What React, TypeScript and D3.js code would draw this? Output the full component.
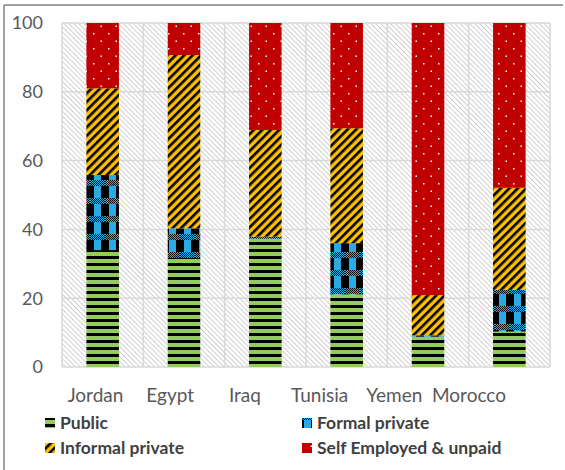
import React from "react";
import * as d3 from "d3";

const categories = ["Jordan", "Egypt", "Iraq", "Tunisia", "Yemen", "Morocco"];
const seriesNames = ["Public", "Formal private", "Informal private", "Self Employed & unpaid"];
const publicVals = [34.0, 31.7, 37.3, 21.1, 8.8, 10.3];
const formalVals = [21.8, 8.6, 0.6, 14.9, 0.4, 12.1];
const informalVals = [25.2, 50.4, 31.0, 33.4, 11.7, 29.7];
const selfVals = [19.0, 9.3, 31.1, 30.6, 79.1, 47.9];
const yTicks = [0, 20, 40, 60, 80, 100];

const W = 565;
const H = 470;
const plotLeft = 62;
const plotRight = 550;
const plotTop = 23;
const plotBottom = 367;

const font = "Lato, 'Open Sans', sans-serif";

export default function App() {
  const x = d3
    .scaleBand<string>()
    .domain(categories)
    .range([plotLeft, plotRight])
    .paddingInner(0.6)
    .paddingOuter(0.3);
  const y = d3.scaleLinear().domain([0, 100]).range([plotBottom, plotTop]);
  const labelX = d3.scalePoint<string>().domain(categories).range([95.5, 469]);

  const rows = categories.map((c, i) => ({
    cat: c,
    Public: publicVals[i],
    "Formal private": formalVals[i],
    "Informal private": informalVals[i],
    "Self Employed & unpaid": selfVals[i],
  }));
  const stacked = d3.stack<any>().keys(seriesNames)(rows);
  const fills = ["url(#pPublic)", "url(#pFormal)", "url(#pInformal)", "url(#pSelf)"];

  const step = x.step();
  const vLines = d3.range(categories.length + 1).map((i) => plotLeft + i * step);

  const checker: JSX.Element[] = [];
  for (let cx = 0; cx < 15; cx++) {
    for (let cy = 0; cy < 6; cy++) {
      if ((cx + cy) % 2 === 0) {
        checker.push(<rect key={cx + "-" + cy} x={cx} y={cy} width={1} height={1} fill="#29aae2" />);
      }
    }
  }

  const legend = [
    { name: seriesNames[0], fill: fills[0], sx: 45, tx: 60, ty: 423 },
    { name: seriesNames[1], fill: fills[1], sx: 302, tx: 317, ty: 423 },
    { name: seriesNames[2], fill: fills[2], sx: 45, tx: 60, ty: 448 },
    { name: seriesNames[3], fill: fills[3], sx: 302, tx: 317, ty: 448 },
  ];

  return (
    <svg
      width={W}
      height={H}
      style={{ position: "absolute", left: 0, top: 0, background: "#fff" }}
    >
      <defs>
        <pattern id="pHatch" width={3.5} height={3.5} patternUnits="userSpaceOnUse" patternTransform="rotate(-45)">
          <rect width={3.5} height={3.5} fill="#ffffff" />
          <line x1={0.5} y1={0} x2={0.5} y2={3.5} stroke="#cfcfcf" strokeWidth={1} />
        </pattern>
        <pattern id="pPublic" width={10} height={7} patternUnits="userSpaceOnUse">
          <rect width={10} height={7} fill="#92cc5c" />
          <rect y={4} width={10} height={3} fill="#000" />
        </pattern>
        <pattern id="pFormal" width={15} height={18} patternUnits="userSpaceOnUse">
          <rect width={15} height={18} fill="#000" />
          <rect x={4} width={7} height={18} fill="#29aae2" />
          <rect y={0} width={15} height={6} fill="#000" />
          {checker}
        </pattern>
        <pattern id="pInformal" width={6} height={6} patternUnits="userSpaceOnUse" patternTransform="rotate(45)">
          <rect width={6} height={6} fill="#ffc000" />
          <rect width={2.6} height={6} fill="#000" />
        </pattern>
        <pattern id="pSelf" width={15} height={15} patternUnits="userSpaceOnUse">
          <rect width={15} height={15} fill="#c00000" />
          <rect x={3} y={3} width={1.5} height={1.5} fill="#fff" />
          <rect x={10.5} y={10.5} width={1.5} height={1.5} fill="#fff" />
        </pattern>
      </defs>

      {/* frame */}
      <line x1={4} y1={5} x2={563} y2={5} stroke="#808080" strokeWidth={1.5} />
      <line x1={4} y1={5} x2={4} y2={H} stroke="#808080" strokeWidth={1.5} />

      {/* plot background */}
      <rect
        x={plotLeft}
        y={plotTop}
        width={plotRight - plotLeft}
        height={plotBottom - plotTop}
        fill="url(#pHatch)"
      />
      {/* gridlines */}
      {yTicks.map((t) => (
        <line key={"h" + t} x1={plotLeft} x2={plotRight} y1={y(t)} y2={y(t)} stroke="#d9d9d9" strokeWidth={1.5} />
      ))}
      {vLines.map((vx, i) => (
        <line key={"v" + i} x1={vx} x2={vx} y1={plotTop} y2={plotBottom} stroke="#d9d9d9" strokeWidth={1.5} />
      ))}

      {/* bars */}
      {stacked.map((s, si) => (
        <g key={s.key} fill={fills[si]}>
          {s.map((d: any, i: number) => (
            <rect
              key={categories[i]}
              x={x(categories[i])}
              width={x.bandwidth()}
              y={y(d[1])}
              height={Math.max(0, y(d[0]) - y(d[1]))}
            />
          ))}
        </g>
      ))}

      {/* y labels */}
      {yTicks.map((t) => (
        <text
          key={"yl" + t}
          x={43}
          y={y(t)}
          dy="0.35em"
          textAnchor="end"
          fontFamily={font}
          fontSize={18}
          fill="#595959"
        >
          {t}
        </text>
      ))}

      {/* x labels */}
      {categories.map((c) => (
        <text
          key={"xl" + c}
          x={labelX(c)}
          y={395}
          dy="0.35em"
          textAnchor="middle"
          fontFamily={font}
          fontSize={19}
          fill="#595959"
        >
          {c}
        </text>
      ))}

      {/* legend */}
      {legend.map((l) => (
        <g key={l.name}>
          <rect x={l.sx} y={l.ty - 5} width={10} height={10} fill={l.fill} />
          <text x={l.tx} y={l.ty} dy="0.35em" fontFamily={font} fontSize={17.5} fontWeight="bold" fill="#404040">
            {l.name}
          </text>
        </g>
      ))}
    </svg>
  );
}
